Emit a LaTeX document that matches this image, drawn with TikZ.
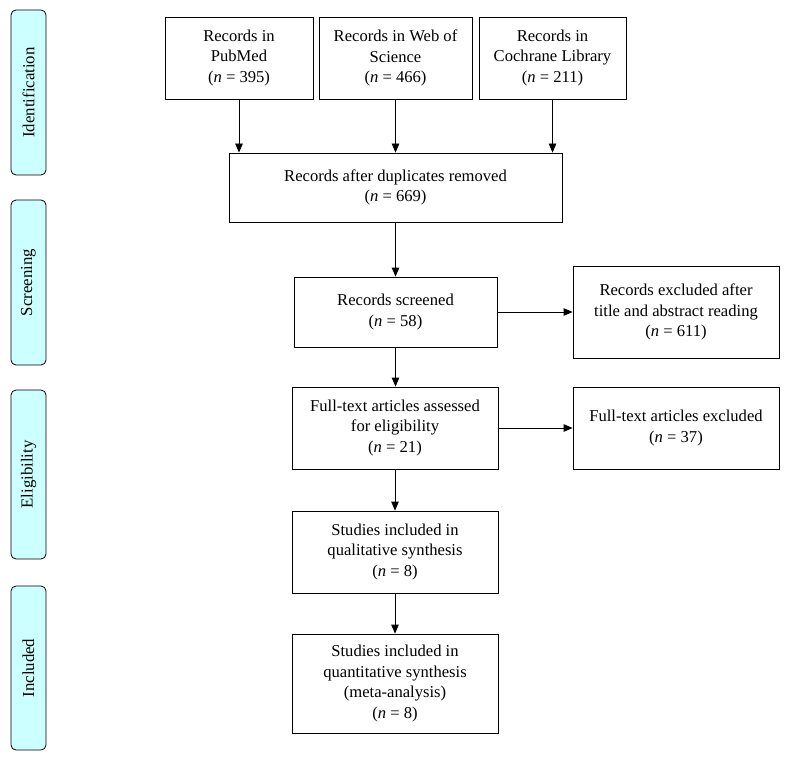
\documentclass[tikz,border=0pt]{standalone}
\usepackage{fontspec}
\setmainfont{Liberation Serif}
\usetikzlibrary{arrows.meta}
\definecolor{sidefill}{HTML}{CCFFFF}
\begin{document}
\begin{tikzpicture}[x=1pt,y=-1pt,
  box/.style={draw, line width=0.8pt, align=center, inner sep=0pt, font=\fontsize{16.6}{20.5}\selectfont},
  side/.style={draw, line width=0.8pt, rounded corners=5pt, fill=sidefill, minimum width=35pt, inner sep=0pt, font=\fontsize{16.8}{20}\selectfont},
  arr/.style={line width=0.8pt, -{Triangle[length=9pt,width=7.5pt]}}]
\useasboundingbox (0,0) rectangle (789,762);
% side labels
\node[side, minimum height=165pt] (id) at (28.5,92.5) {\rotatebox{90}{Identification}};
\node[side, minimum height=165pt] (sc) at (28.5,282.5) {\rotatebox{90}{Screening}};
\node[side, minimum height=169pt] (el) at (28.5,474.5) {\rotatebox{90}{Eligibility}};
\node[side, minimum height=164pt] (in) at (28.5,668) {\rotatebox{90}{Included}};
% boxes
\node[box, minimum width=148pt, minimum height=82pt] (pm) at (239,58) {Records in\\PubMed\\(\textit{n} = 395)};
\node[box, minimum width=153pt, minimum height=82pt] (ws) at (395.5,58) {Records in Web of\\Science\\(\textit{n} = 466)};
\node[box, minimum width=147pt, minimum height=82pt] (co) at (552.5,58) {Records in\\Cochrane Library\\(\textit{n} = 211)};
\node[box, minimum width=333pt, minimum height=69pt] (dup) at (395.5,187.5) {Records after duplicates removed\\(\textit{n} = 669)};
\node[box, minimum width=203pt, minimum height=70pt] (scr) at (395.5,312) {Records screened\\(\textit{n} = 58)};
\node[box, minimum width=206pt, minimum height=92pt] (ex1) at (676,312) {Records excluded after\\title and abstract reading\\(\textit{n} = 611)};
\node[box, minimum width=206pt, minimum height=82pt] (ft) at (395,428) {Full-text articles assessed\\for eligibility\\(\textit{n} = 21)};
\node[box, minimum width=206pt, minimum height=82pt] (ex2) at (676,428) {Full-text articles excluded\\(\textit{n} = 37)};
\node[box, minimum width=206pt, minimum height=82pt] (ql) at (395,552) {Studies included in\\qualitative synthesis\\(\textit{n} = 8)};
\node[box, minimum width=206pt, minimum height=99pt] (qn) at (395,683.5) {Studies included in\\quantitative synthesis\\(meta-analysis)\\(\textit{n} = 8)};
% connectors
\draw[arr] (pm.south) -- (pm.south |- dup.north);
\draw[arr] (ws.south) -- (ws.south |- dup.north);
\draw[arr] (co.south) -- (co.south |- dup.north);
\draw[arr] (dup.south) -- (dup.south |- scr.north);
\draw[arr] (scr.east) -- (ex1.west);
\draw[arr] (scr.south) -- (scr.south |- ft.north);
\draw[arr] (ft.east) -- (ex2.west);
\draw[arr] (ft.south) -- (ql.north);
\draw[arr] (ql.south) -- (qn.north);
\end{tikzpicture}
\end{document}
